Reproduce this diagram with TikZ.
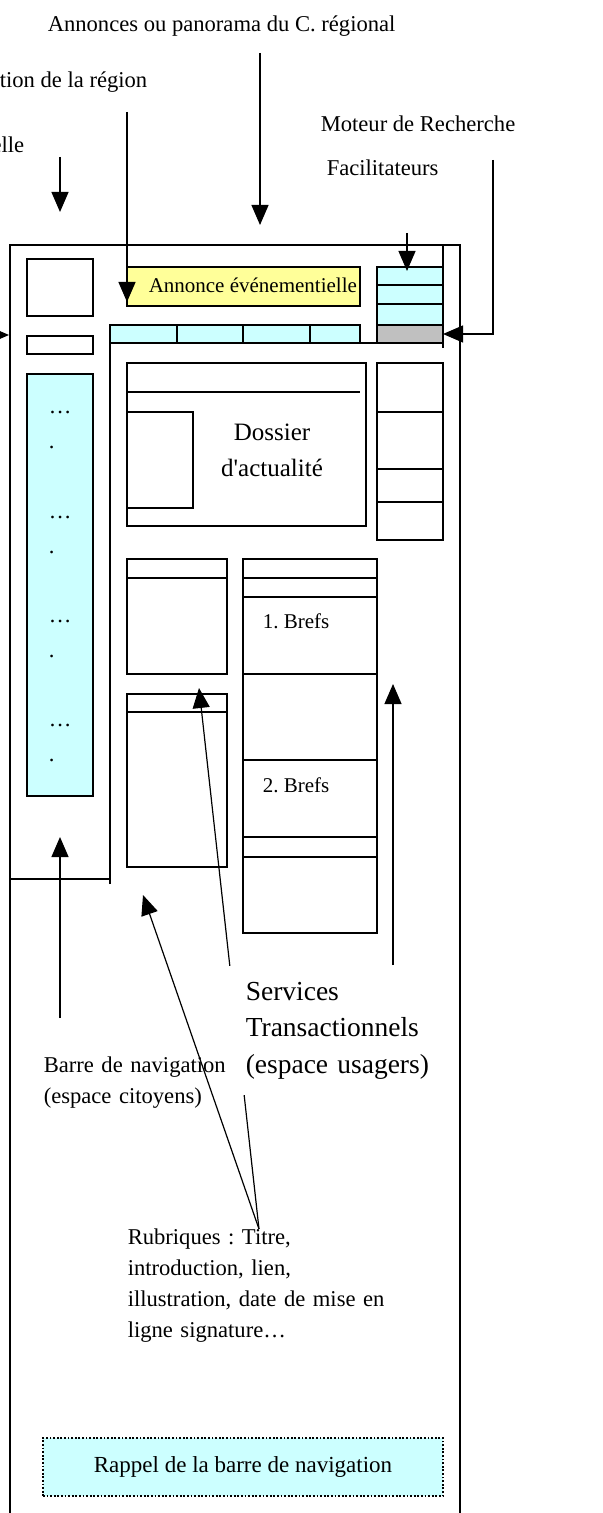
\documentclass[tikz,border=0pt]{standalone}
\usepackage{fontspec}
\setmainfont{Liberation Serif}
\usepackage{tikz}
\usetikzlibrary{arrows.meta}
\definecolor{bleuclair}{HTML}{CCFFFF}
\definecolor{jaunepale}{HTML}{FFFF99}
\definecolor{grismoyen}{HTML}{C0C0C0}
\frenchspacing
\begin{document}
\begin{tikzpicture}[x=0.5pt,y=-0.5pt,line width=0.75pt,
                fleche/.style={-{Triangle[length=10pt,width=8.5pt]},line width=0.6pt},
                texte/.style={inner sep=0pt,font=\fontsize{11.3}{15.5}\selectfont,align=left},
                petit/.style={inner sep=0pt,font=\fontsize{10.5}{12.5}\selectfont},
                moyen/.style={inner sep=0pt,font=\fontsize{12.5}{17.5}\selectfont,align=center,text width=62pt},
                gros/.style={inner xsep=10.5pt,inner ysep=8pt,font=\fontsize{13.75}{18.3}\selectfont,align=left,text width=92pt,fill=white},
                rappel/.style={draw,dash pattern=on 0.9pt off 0.9pt,fill=bleuclair,minimum width=200pt,minimum height=29pt,inner sep=0pt,font=\fontsize{11.5}{13.5}\selectfont}]
                \useasboundingbox (0,0) rectangle (602,1513);
                \draw (10,1530) -- (10,245) -- (460,245) -- (460,1530);
                \draw (10,879) -- (110,879);
                \draw (110,884) -- (110,325);
                \draw (110,343) -- (443,343);
                \draw (443,245) -- (443,348);
                \draw (27,259) rectangle (93,316);
                \draw (27,336) rectangle (93,354);
                \draw[fill=bleuclair] (27,374) rectangle (93,796);
                \foreach \y in {414,518,622,726} {
                    \node[texte,anchor=base west] at (48,\y) {…};
                    \node[texte,anchor=base west] at (48,\y+35) {.};
                }
                \draw[fill=jaunepale] (127,267) rectangle (360,306);
                \draw[fill=bleuclair] (110,325) rectangle (360,343);
                \foreach \x in {177,243,310} \draw (\x,325) -- (\x,343);
                \draw[fill=bleuclair] (377,267) rectangle (443,325);
                \foreach \y in {285,304} \draw (377,\y) -- (443,\y);
                \draw[fill=grismoyen] (377,325) rectangle (443,343);
                \draw (377,363) rectangle (443,540);
                \foreach \y in {412,469,502} \draw (377,\y) -- (443,\y);
                \draw (127,363) rectangle (366,526);
                \draw (127,392) -- (360,392);
                \draw (127,412) rectangle (193,508);
                \draw (127,559) rectangle (227,674);
                \draw (127,578) -- (227,578);
                \draw (127,694) rectangle (227,867);
                \draw (127,712) -- (227,712);
                \draw (243,559) rectangle (377,933);
                \foreach \y in {578,597,674,760,837,857} \draw (243,\y) -- (377,\y);
                \node[texte,anchor=base west] (annonces) at (47,32) {Annonces ou panorama du C. régional};
                \node[texte,anchor=base east] (region) at (148,88) {tion de la région};
                \node[texte,anchor=base east] (visuelle) at (25,153) {elle};
                \node[texte,anchor=base west] (moteur) at (320,132) {Moteur de Recherche};
                \node[texte,anchor=base west] (facil) at (326,176) {Facilitateurs};
                \node[petit,anchor=base west] (evenement) at (148,293) {Annonce événementielle};
                \node[moyen,anchor=base] (dossier) at (272,441) {Dossier\\d\textquotesingle actualité};
                \node[petit,anchor=base west] (bref1) at (262,628) {1. Brefs};
                \node[petit,anchor=base west] (bref2) at (262,792) {2. Brefs};
                \node[texte,anchor=base west,text width=140pt] (rubriques) at (127,1244) {Rubriques : Titre,\\introduction, lien,\\illustration, date de mise en\\ligne signature…};
                \node[rappel] (rappelnav) at (243,1467) {Rappel de la barre de navigation};
                \coordinate (rub) at (259,1229);
                \coordinate (versA) at (199,688);
                \coordinate (versB) at (143,895);
                \coordinate (versC) at (393,684);
                \draw[fleche] (rub) -- (versA);
                \node[gros,anchor=base west] (services) at (224,1000) {Services\\Transactionnels\\(espace usagers)};
                \node[texte,anchor=base west,text width=100pt] (barre) at (43,1072) {Barre de navigation\\(espace citoyens)};
                \draw[fleche] (rub) -- (versB);
                \draw[fleche] (services.north -| versC) -- (versC);
                \draw[fleche] (260,53) -- (260,225);
                \draw[fleche] (127,112) -- (127,302);
                \draw[fleche] (60,157) -- (60,212);
                \draw[fleche] (407,233) -- (407,271);
                \draw[fleche] (493,160) -- (493,334) -- (443,334);
                \draw[fleche] (0,335) -- (9,335);
                \draw[fleche] (60,1018) -- (60,837);
\end{tikzpicture}
\end{document}
